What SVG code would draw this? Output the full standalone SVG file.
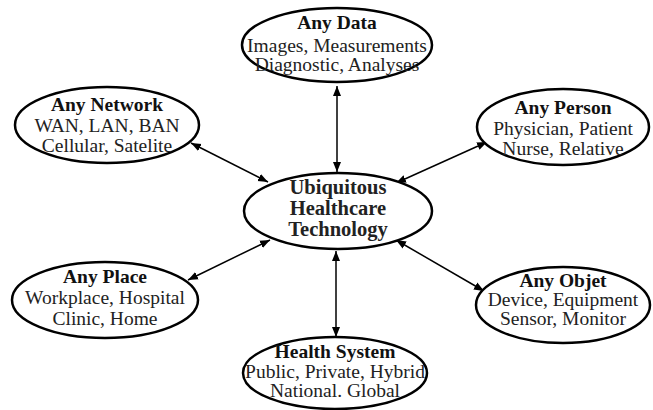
<svg xmlns="http://www.w3.org/2000/svg" width="653" height="410" viewBox="0 0 653 410">
<style>
.n ellipse{fill:#fff;stroke:#000;stroke-width:2.5}
text{font-family:"Liberation Serif","DejaVu Serif",serif;text-anchor:middle;fill:#222}
.t{font-weight:bold;font-size:19.5px;fill:#111}
.s{font-size:19.5px}
.c{font-weight:bold;font-size:20.5px;fill:#222}
.e line{stroke:#000;stroke-width:1.5;marker-start:url(#a);marker-end:url(#a)}
</style>
<defs>
<marker id="a" viewBox="0 0 10 10" refX="10" refY="5" markerWidth="10" markerHeight="10" markerUnits="userSpaceOnUse" orient="auto-start-reverse">
<path d="M0,1 L10,5 L0,9 z" fill="#000"/>
</marker>
</defs>
<g class="e">
<line x1="337" y1="86" x2="337" y2="172"/>
<line x1="191" y1="143" x2="268" y2="182"/>
<line x1="487" y1="142" x2="396" y2="183"/>
<line x1="188" y1="280" x2="270" y2="240"/>
<line x1="484" y1="291" x2="396" y2="240"/>
<line x1="336" y1="337" x2="336" y2="251"/>
</g>
<g id="center" class="n"><ellipse cx="338" cy="211" rx="94" ry="38"/>
<text class="c" x="338" y="194">Ubiquitous</text><text class="c" x="338" y="215">Healthcare</text><text class="c" x="338" y="236">Technology</text></g>
<g id="data" class="n"><ellipse cx="337" cy="45" rx="95" ry="37"/>
<text class="t" x="337" y="29">Any Data</text><text class="s" x="337" y="52">Images, Measurements</text><text class="s" x="337" y="71">Diagnostic, Analyses</text></g>
<g id="network" class="n"><ellipse cx="107" cy="125" rx="92" ry="38"/>
<text class="t" x="107" y="111">Any Network</text><text class="s" x="107" y="132">WAN, LAN, BAN</text><text class="s" x="107" y="152">Cellular, Satelite</text></g>
<g id="person" class="n"><ellipse cx="563" cy="127" rx="86" ry="38"/>
<text class="t" x="563" y="114">Any Person</text><text class="s" x="563" y="135">Physician, Patient</text><text class="s" x="563" y="155">Nurse, Relative</text></g>
<g id="place" class="n"><ellipse cx="105" cy="300" rx="93" ry="38"/>
<text class="t" x="105" y="283">Any Place</text><text class="s" x="105" y="304">Workplace, Hospital</text><text class="s" x="105" y="325">Clinic, Home</text></g>
<g id="objet" class="n"><ellipse cx="563" cy="305" rx="87" ry="38"/>
<text class="t" x="563" y="287">Any Objet</text><text class="s" x="563" y="306">Device, Equipment</text><text class="s" x="563" y="325">Sensor, Monitor</text></g>
<g id="health" class="n"><ellipse cx="335" cy="373" rx="92" ry="36"/>
<text class="t" x="335" y="358">Health System</text><text class="s" x="335" y="378">Public, Private, Hybrid</text><text class="s" x="335" y="397">National. Global</text></g>
</svg>
